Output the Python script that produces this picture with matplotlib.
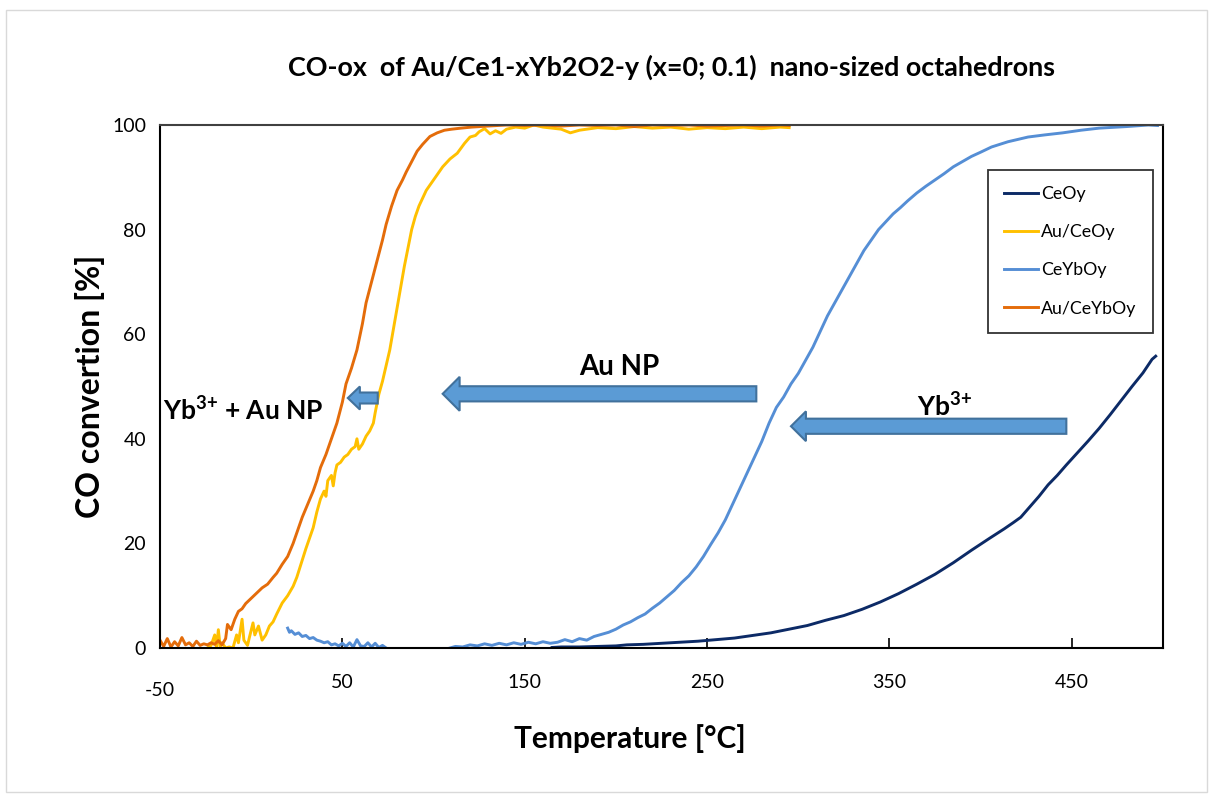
import matplotlib
matplotlib.use("Agg")
import matplotlib.pyplot as plt
import matplotlib.transforms as mtransforms
import numpy as np
from matplotlib.patches import FancyArrow, Rectangle

plt.rcParams['font.family'] = ['Lato', 'DejaVu Sans']
plt.rcParams['mathtext.fontset'] = 'custom'
plt.rcParams['mathtext.rm'] = 'Lato'
plt.rcParams['mathtext.bf'] = 'Lato:bold'
plt.rcParams['axes.unicode_minus'] = False

# ---------------- data ----------------
ceoy_T = [165, 170, 180, 190, 200, 206, 215, 225, 235, 245, 255, 265, 275, 285,
          295, 305, 315, 325, 335, 345, 355, 365, 375, 385, 395, 405, 413, 418,
          422, 427, 432, 437, 442, 447, 453, 459, 465, 471, 477, 483, 489, 494, 496]
ceoy_X = [0.1, 0.2, 0.2, 0.3, 0.4, 0.6, 0.7, 0.9, 1.1, 1.3, 1.6, 1.9, 2.4, 2.9,
          3.6, 4.3, 5.3, 6.2, 7.4, 8.8, 10.4, 12.2, 14.1, 16.3, 18.7, 21.0, 22.8, 24.0,
          25.0, 27.0, 29.0, 31.2, 33.0, 35.0, 37.3, 39.6, 42.0, 44.6, 47.3, 50.0, 52.6, 55.2, 55.8]

au_ceoy_T = [-24, -22, -20, -19, -18, -17, -16, -14, -12, -10, -8, -7, -5, -4, -2, -1,
             1, 2, 4, 6, 8, 10, 12, 14, 17, 20, 23, 25, 28, 30, 32, 34, 36, 38, 40,
             41, 42, 44, 45, 46, 47, 49, 51, 53, 55, 57, 58, 59, 61, 63, 65, 67, 68,
             70, 72, 74, 76, 78, 80, 82, 84, 86, 88, 90, 92, 94, 96, 99, 102, 105,
             109, 113, 117, 120, 123, 125, 128, 131, 134, 137, 140, 145, 150, 155,
             160, 170, 175, 180, 190, 200, 210, 220, 230, 240, 250, 260, 270, 280,
             290, 295]
au_ceoy_X = [0.0, 0.5, 2.5, 0.0, 3.5, 0.3, 1.0, 0.0, 0.2, 0.0, 2.5, 1.0, 5.5, 1.5, 0.5, 2.0,
             4.8, 2.5, 4.2, 1.5, 2.5, 4.2, 5.0, 6.5, 8.6, 10.0, 11.8, 13.5, 16.8, 19.0, 21.0,
             23.0, 26.0, 28.5, 30.0, 29.0, 32.0, 33.0, 31.0, 33.5, 35.0, 35.5, 36.5, 37.0,
             38.0, 38.5, 40.0, 38.0, 39.0, 40.5, 41.5, 43.0, 45.0, 48.5, 51.0, 54.0, 57.0,
             61.0, 65.0, 69.0, 73.0, 76.5, 80.0, 82.5, 84.5, 86.0, 87.5, 89.0, 90.5, 92.0,
             93.5, 94.6, 96.5, 97.7, 98.0, 98.7, 99.3, 98.3, 98.9, 98.4, 99.2, 99.6, 99.4,
             100.0, 99.6, 99.2, 98.5, 99.0, 99.5, 99.3, 99.7, 99.4, 99.6, 99.2, 99.5, 99.3,
             99.6, 99.3, 99.6, 99.5]

ceyboy_T = [20, 21, 22, 24, 26, 28, 30, 32, 34, 36, 38, 40, 42, 44, 46, 48, 50, 52,
            54, 56, 58, 60, 62, 64, 66, 68, 70, 72, 74, 75,
            109, 112, 116, 120, 124, 128, 132, 136, 140, 144, 148, 152, 156, 160, 164,
            168, 172, 176, 180, 184, 188, 192, 196, 200, 204, 208, 212, 216, 220, 224,
            228, 232, 236, 240, 244, 248, 252, 256, 260, 264, 268, 272, 276, 280, 284,
            288, 292, 296, 300, 304, 308, 312, 316, 320, 324, 328, 332, 336, 340, 344,
            348, 352, 356, 360, 365, 370, 375, 380, 385, 390, 395, 400, 406, 415, 426,
            435, 445, 455, 465, 480, 492, 497]
ceyboy_X = [3.8, 3.0, 3.3, 2.6, 2.9, 2.2, 2.4, 1.8, 2.0, 1.5, 1.3, 1.0, 1.2, 0.6, 0.8,
            0.4, 0.9, 0.3, 1.0, 0.2, 1.6, 0.4, 0.3, 1.0, 0.2, 0.9, 0.1, 0.5, 0.0, np.nan,
            0.0, 0.3, 0.2, 0.6, 0.4, 0.8, 0.5, 0.9, 0.6, 1.0, 0.7, 1.1, 0.8, 1.2, 0.9,
            1.1, 1.6, 1.2, 1.8, 1.5, 2.2, 2.6, 3.0, 3.6, 4.4, 5.0, 5.8, 6.5, 7.6, 8.6,
            9.8, 11.0, 12.5, 13.8, 15.5, 17.5, 19.8, 22.0, 24.5, 27.5, 30.5, 33.5, 36.5,
            39.5, 43.0, 46.0, 48.0, 50.5, 52.5, 55.0, 57.5, 60.5, 63.5, 66.0, 68.5, 71.0,
            73.5, 76.0, 78.0, 80.0, 81.5, 83.0, 84.2, 85.5, 87.0, 88.3, 89.5, 90.7, 92.0,
            93.0, 94.0, 94.8, 95.8, 96.8, 97.7, 98.1, 98.5, 99.0, 99.4, 99.7, 100.0, 99.9]

au_ceyboy_T = [-50, -48, -46, -44, -42, -40, -38, -36, -34, -32, -30, -28, -26, -24,
               -22, -20, -18, -16, -14, -13, -11, -9, -7, -5, -3, 0, 3, 6, 9, 12, 14,
               17, 20, 23, 26, 28, 31, 34, 36, 38, 41, 44, 47, 50, 52, 55, 58, 61, 63,
               66, 69, 72, 74, 77, 80, 83, 85, 88, 91, 94, 98, 102, 106, 110, 115, 121,
               130, 140, 150, 160, 170, 180, 190, 200, 210, 220, 230, 240, 250, 260,
               270, 280, 290, 295]
au_ceyboy_X = [1.5, 0.3, 1.8, 0.2, 1.2, 0.4, 2.0, 0.6, 1.0, 0.3, 1.3, 0.5, 0.8, 0.6,
               1.0, 0.7, 1.4, 0.6, 1.8, 4.5, 3.5, 5.5, 7.0, 7.5, 8.5, 9.5, 10.5, 11.5,
               12.2, 13.5, 14.3, 16.0, 17.5, 20.0, 23.0, 25.0, 27.5, 30.0, 32.0, 34.5,
               37.0, 40.0, 43.0, 47.0, 50.5, 53.5, 57.0, 62.0, 66.0, 70.0, 74.0, 78.0,
               81.0, 84.5, 87.5, 89.5, 91.0, 93.0, 95.0, 96.3, 97.8, 98.5, 99.0, 99.2,
               99.4, 99.6, 99.8, 100.0, 99.9, 100.0, 99.8, 100.0, 99.9, 100.0, 99.7,
               100.0, 99.9, 100.0, 99.8, 99.9, 100.0, 99.8, 100.0, 99.9]

labels = ["CeOy", "Au/CeOy", "CeYbOy", "Au/CeYbOy"]
colors = ["#0C2A66", "#FFC000", "#558ED5", "#E46C0A"]
x_ticks = [-50, 50, 150, 250, 350, 450]
y_ticks = [0, 20, 40, 60, 80, 100]

title = "CO-ox  of Au/Ce1-xYb2O2-y (x=0; 0.1)  nano-sized octahedrons"

# ---------------- figure ----------------
fig = plt.figure(figsize=(12.13, 7.96), dpi=100)
fig.patches.append(Rectangle((6/1213, 4/796), 1201/1213, 782/796, transform=fig.transFigure,
                             fill=False, edgecolor="#D9D9D9", linewidth=1.0))
ax = fig.add_axes([160/1213, 1 - 648/796, 1003/1213, 523/796])

series = [(ceoy_T, ceoy_X), (au_ceoy_T, au_ceoy_X), (ceyboy_T, ceyboy_X), (au_ceyboy_T, au_ceyboy_X)]
for (t, x), lab, c in zip(series, labels, colors):
    ax.plot(t, x, color=c, lw=2.1, label=lab, solid_joinstyle="round")

ax.set_xlim(-50, 500)
ax.set_ylim(0, 100)
ax.set_xticks(x_ticks)
ax.set_yticks(y_ticks)
ax.tick_params(axis="x", direction="in", length=7, width=1.2, labelsize=14, pad=19)
ax.tick_params(axis="y", length=0, labelsize=14, pad=10)
for s in ax.spines.values():
    s.set_linewidth(1.5)
    s.set_color("black")
ax.spines["top"].set_color("#404040")

# the first x tick label sits a little lower in the original
fig.canvas.draw()
first = ax.get_xticklabels()[0]
first.set_transform(first.get_transform() + mtransforms.ScaledTranslation(0, -8/100, fig.dpi_scale_trans))

ax.set_xlabel("Temperature [°C]", fontsize=21.5, fontweight="bold")
ax.xaxis.set_label_coords(0.4686, -0.145)
ax.set_ylabel("CO convertion [%]", fontsize=23, fontweight="bold")
ax.yaxis.set_label_coords(-0.055, 0.5)
fig.text(672/1213, 1 - 67/796, title, fontsize=19.4, fontweight="bold", ha="center", va="center")

leg = ax.legend(loc="upper left", bbox_to_anchor=(0.8255, 0.914), fontsize=12.8,
                frameon=True, fancybox=False, edgecolor="black", handlelength=1.9,
                handletextpad=0.2, labelspacing=1.25, borderpad=0.9, borderaxespad=0)
leg.get_frame().set_linewidth(1.3)

# ---------------- annotation arrows and texts ----------------
arrow_kw = dict(facecolor="#5B9BD5", edgecolor="#41719C", linewidth=1.5,
                length_includes_head=True, zorder=5)
ax.add_patch(FancyArrow(277, 48.6, 105 - 277, 0, width=2.9, head_width=6.5, head_length=9.3, **arrow_kw))
ax.add_patch(FancyArrow(447, 42.4, 296 - 447, 0, width=2.9, head_width=5.7, head_length=8.2, **arrow_kw))
ax.add_patch(FancyArrow(69.4, 47.8, 53 - 69.4, 0, width=2.1, head_width=4.4, head_length=6.6, **arrow_kw))

ax.text(202, 53.7, "Au NP", fontsize=20, fontweight="bold", ha="center", va="center")
ax.text(365, 46, r"$\mathbf{Yb^{3{+}}}$", fontsize=19, ha="left", va="center")
ax.text(-48.4, 45.5, r"$\mathbf{Yb^{3{+}}}$ + Au NP", fontsize=19, fontweight="bold",
        ha="left", va="center")

fig.savefig("out.png", dpi=100)
